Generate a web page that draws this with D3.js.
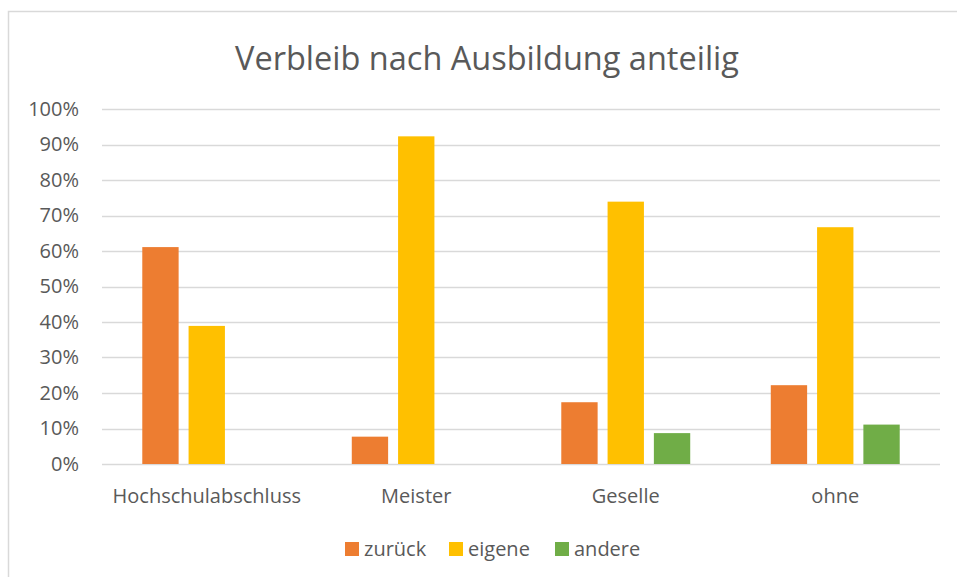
<!DOCTYPE html>
<html>
<head>
<meta charset="utf-8">
<script src="https://cdn.jsdelivr.net/npm/d3@7"></script>
<style>
  body { margin: 0; background: #fff; }
  svg { display: block; font-family: "Open Sans", sans-serif; }
</style>
</head>
<body>
<div id="chart"></div>
<script>
const width = 957;
const height = 577;

const categories = ['Hochschulabschluss', 'Meister', 'Geselle', 'ohne'];
const seriesNames = ['zurück', 'eigene', 'andere'];
const zurueck = [0.611, 0.077, 0.174, 0.222];
const eigene = [0.389, 0.923, 0.739, 0.667];
const andere = [0, 0, 0.087, 0.111];
const colors = ['#ed7d31', '#ffc000', '#70ad47'];
const yTicks = [0, 0.1, 0.2, 0.3, 0.4, 0.5, 0.6, 0.7, 0.8, 0.9, 1];

const values = [zurueck, eigene, andere];
const rows = categories.map((c, i) => ({
    category: c,
    bars: seriesNames.map((s, j) => ({ series: s, value: values[j][i], color: colors[j] }))
}));

const margin = { top: 109, right: 17, bottom: 113, left: 102 };

const svg = d3.select('#chart').append('svg')
    .attr('width', width)
    .attr('height', height);

// outer frame (top and left edges visible)
svg.append('path')
    .attr('d', `M 8.5 ${height} L 8.5 11.5 L ${width} 11.5`)
    .attr('fill', 'none')
    .attr('stroke', '#d9d9d9')
    .attr('stroke-width', 1.5);

svg.append('text')
    .attr('x', 487)
    .attr('y', 70)
    .attr('text-anchor', 'middle')
    .attr('fill', '#595959')
    .attr('font-size', '32.5px')
    .text('Verbleib nach Ausbildung anteilig');

const x0 = d3.scaleBand()
    .domain(categories)
    .range([margin.left, width - margin.right]);

const x1 = d3.scaleBand()
    .domain(seriesNames)
    .range([0, x0.bandwidth()])
    .paddingInner(0.215)
    .paddingOuter(0.87);

const y = d3.scaleLinear()
    .domain([0, 1])
    .range([height - margin.bottom, margin.top]);

// gridlines
svg.append('g')
    .selectAll('line')
    .data(yTicks)
    .join('line')
    .attr('x1', margin.left)
    .attr('x2', width - margin.right)
    .attr('y1', d => Math.round(y(d)) + 0.5)
    .attr('y2', d => Math.round(y(d)) + 0.5)
    .attr('stroke', '#d9d9d9')
    .attr('stroke-width', 1.3);

// y axis labels
const yAxis = d3.axisLeft(y)
    .tickValues(yTicks)
    .tickFormat(d3.format('.0%'))
    .tickSize(0)
    .tickPadding(23);

const yg = svg.append('g')
    .attr('transform', `translate(${margin.left},0)`)
    .call(yAxis);
yg.select('.domain').remove();
yg.selectAll('text')
    .attr('fill', '#595959')
    .attr('font-size', '20px')
    .attr('font-family', '"Open Sans", sans-serif');

// bars
const group = svg.append('g')
    .selectAll('g')
    .data(rows)
    .join('g')
    .attr('transform', d => `translate(${x0(d.category)},0)`);

group.selectAll('rect')
    .data(d => d.bars.filter(b => b.value > 0))
    .join('rect')
    .attr('x', d => x1(d.series))
    .attr('width', x1.bandwidth())
    .attr('y', d => y(d.value))
    .attr('height', d => y(0) - y(d.value))
    .attr('fill', d => d.color);

// category labels
const xAxis = d3.axisBottom(x0)
    .tickSize(0)
    .tickPadding(25);

const xg = svg.append('g')
    .attr('transform', `translate(0,${height - margin.bottom})`)
    .call(xAxis);
xg.select('.domain').remove();
xg.selectAll('text')
    .attr('fill', '#595959')
    .attr('font-size', '20px')
    .attr('font-family', '"Open Sans", sans-serif');

// legend
const legendX = [345, 449, 555];
const legend = svg.append('g')
    .selectAll('g')
    .data(seriesNames)
    .join('g')
    .attr('transform', (d, i) => `translate(${legendX[i]},542)`);

legend.append('rect')
    .attr('width', 14)
    .attr('height', 14)
    .attr('fill', (d, i) => colors[i]);

legend.append('text')
    .attr('x', 19)
    .attr('y', 14)
    .attr('fill', '#595959')
    .attr('font-size', '20px')
    .text(d => d);
</script>
</body>
</html>
